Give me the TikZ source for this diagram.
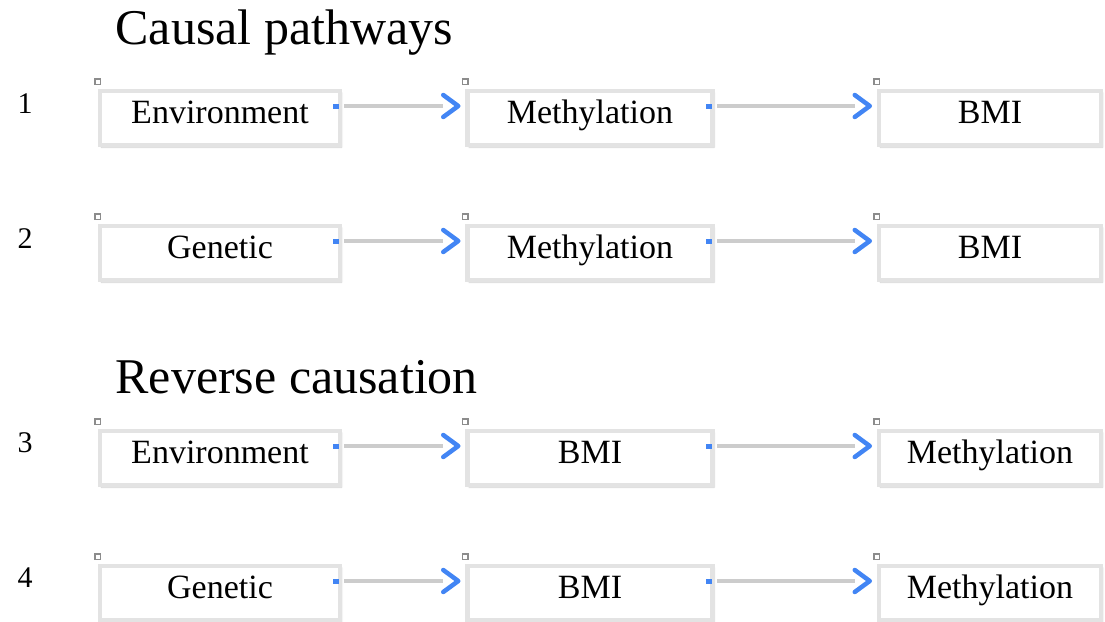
\documentclass[tikz,border=0pt]{standalone}
\usepackage{fontspec}
\setmainfont{Liberation Serif}
\usetikzlibrary{arrows.meta,shadows.blur}
\definecolor{chevblue}{RGB}{66,133,244}
\begin{document}
\begin{tikzpicture}[x=1pt, y=-1pt,
    box/.style={draw=black!11, line width=4.5pt, fill=white, minimum height=54pt,
                font=\fontsize{34}{40}\selectfont, text height=24pt, text depth=14pt,
                blur shadow={shadow xshift=1.5pt, shadow yshift=-2pt, shadow opacity=20, shadow blur steps=8}},
    handle/.style={draw=black!45, fill=white, line width=1.2pt, minimum size=5.5pt, inner sep=0pt},
    link/.style={black!20, line width=4.5pt, shorten >=22pt, shorten <=8pt},
    dot/.style={fill=chevblue, minimum width=6pt, minimum height=5pt, inner sep=0pt},
    chev/.style={chevblue, line width=4.5pt, line cap=round, line join=round},
    title/.style={font=\fontsize{50}{56}\selectfont, anchor=west},
    num/.style={font=\fontsize{30}{34}\selectfont}]
    \useasboundingbox (0,0) rectangle (1105,621);
    % headings
    \node[title] (causal) at (112,33) {Causal pathways};
    \node[title] (reverse) at (112,377) {Reverse causation};
    % row numbers
    \node[num] (n1) at (25,104) {1};
    \node[num] (n2) at (25,239) {2};
    \node[num] (n3) at (25,443) {3};
    \node[num] (n4) at (25,578) {4};
    % row 1
    \node[box, minimum width=240pt] (env1) at (220,118) {Environment};
    \node[box, minimum width=245pt] (meth1) at (590,118) {Methylation};
    \node[box, minimum width=222pt] (bmi1) at (990,118) {BMI};
    % row 2
    \node[box, minimum width=240pt] (gen2) at (220,253) {Genetic};
    \node[box, minimum width=245pt] (meth2) at (590,253) {Methylation};
    \node[box, minimum width=222pt] (bmi2) at (990,253) {BMI};
    % row 3
    \node[box, minimum width=240pt] (env3) at (220,458) {Environment};
    \node[box, minimum width=245pt] (bmi3) at (590,458) {BMI};
    \node[box, minimum width=222pt] (meth3) at (990,458) {Methylation};
    % row 4
    \node[box, minimum width=240pt] (gen4) at (220,593) {Genetic};
    \node[box, minimum width=245pt] (bmi4) at (590,593) {BMI};
    \node[box, minimum width=222pt] (meth4) at (990,593) {Methylation};
    % handles
    \foreach \b in {env1,meth1,bmi1,gen2,meth2,bmi2,env3,bmi3,meth3,gen4,bmi4,meth4}
        \node[handle] (h-\b) at ([shift={(0pt,7pt)}]\b.north west) {};
    % links with chevron heads
    \foreach \a/\b in {env1/meth1,meth1/bmi1,gen2/meth2,meth2/bmi2,env3/bmi3,bmi3/meth3,gen4/bmi4,bmi4/meth4} {
        \node[dot] (d-\a) at ([xshift=-6pt,yshift=12pt]\a.east) {};
        \draw[link] (d-\a.center) -- ([yshift=12pt]\b.west);
        \draw[chev] ([xshift=-7pt,yshift=12pt]\b.west) ++(-15,-11) -- ++(15,11) -- ++(-15,11);
    }
\end{tikzpicture}
\end{document}
